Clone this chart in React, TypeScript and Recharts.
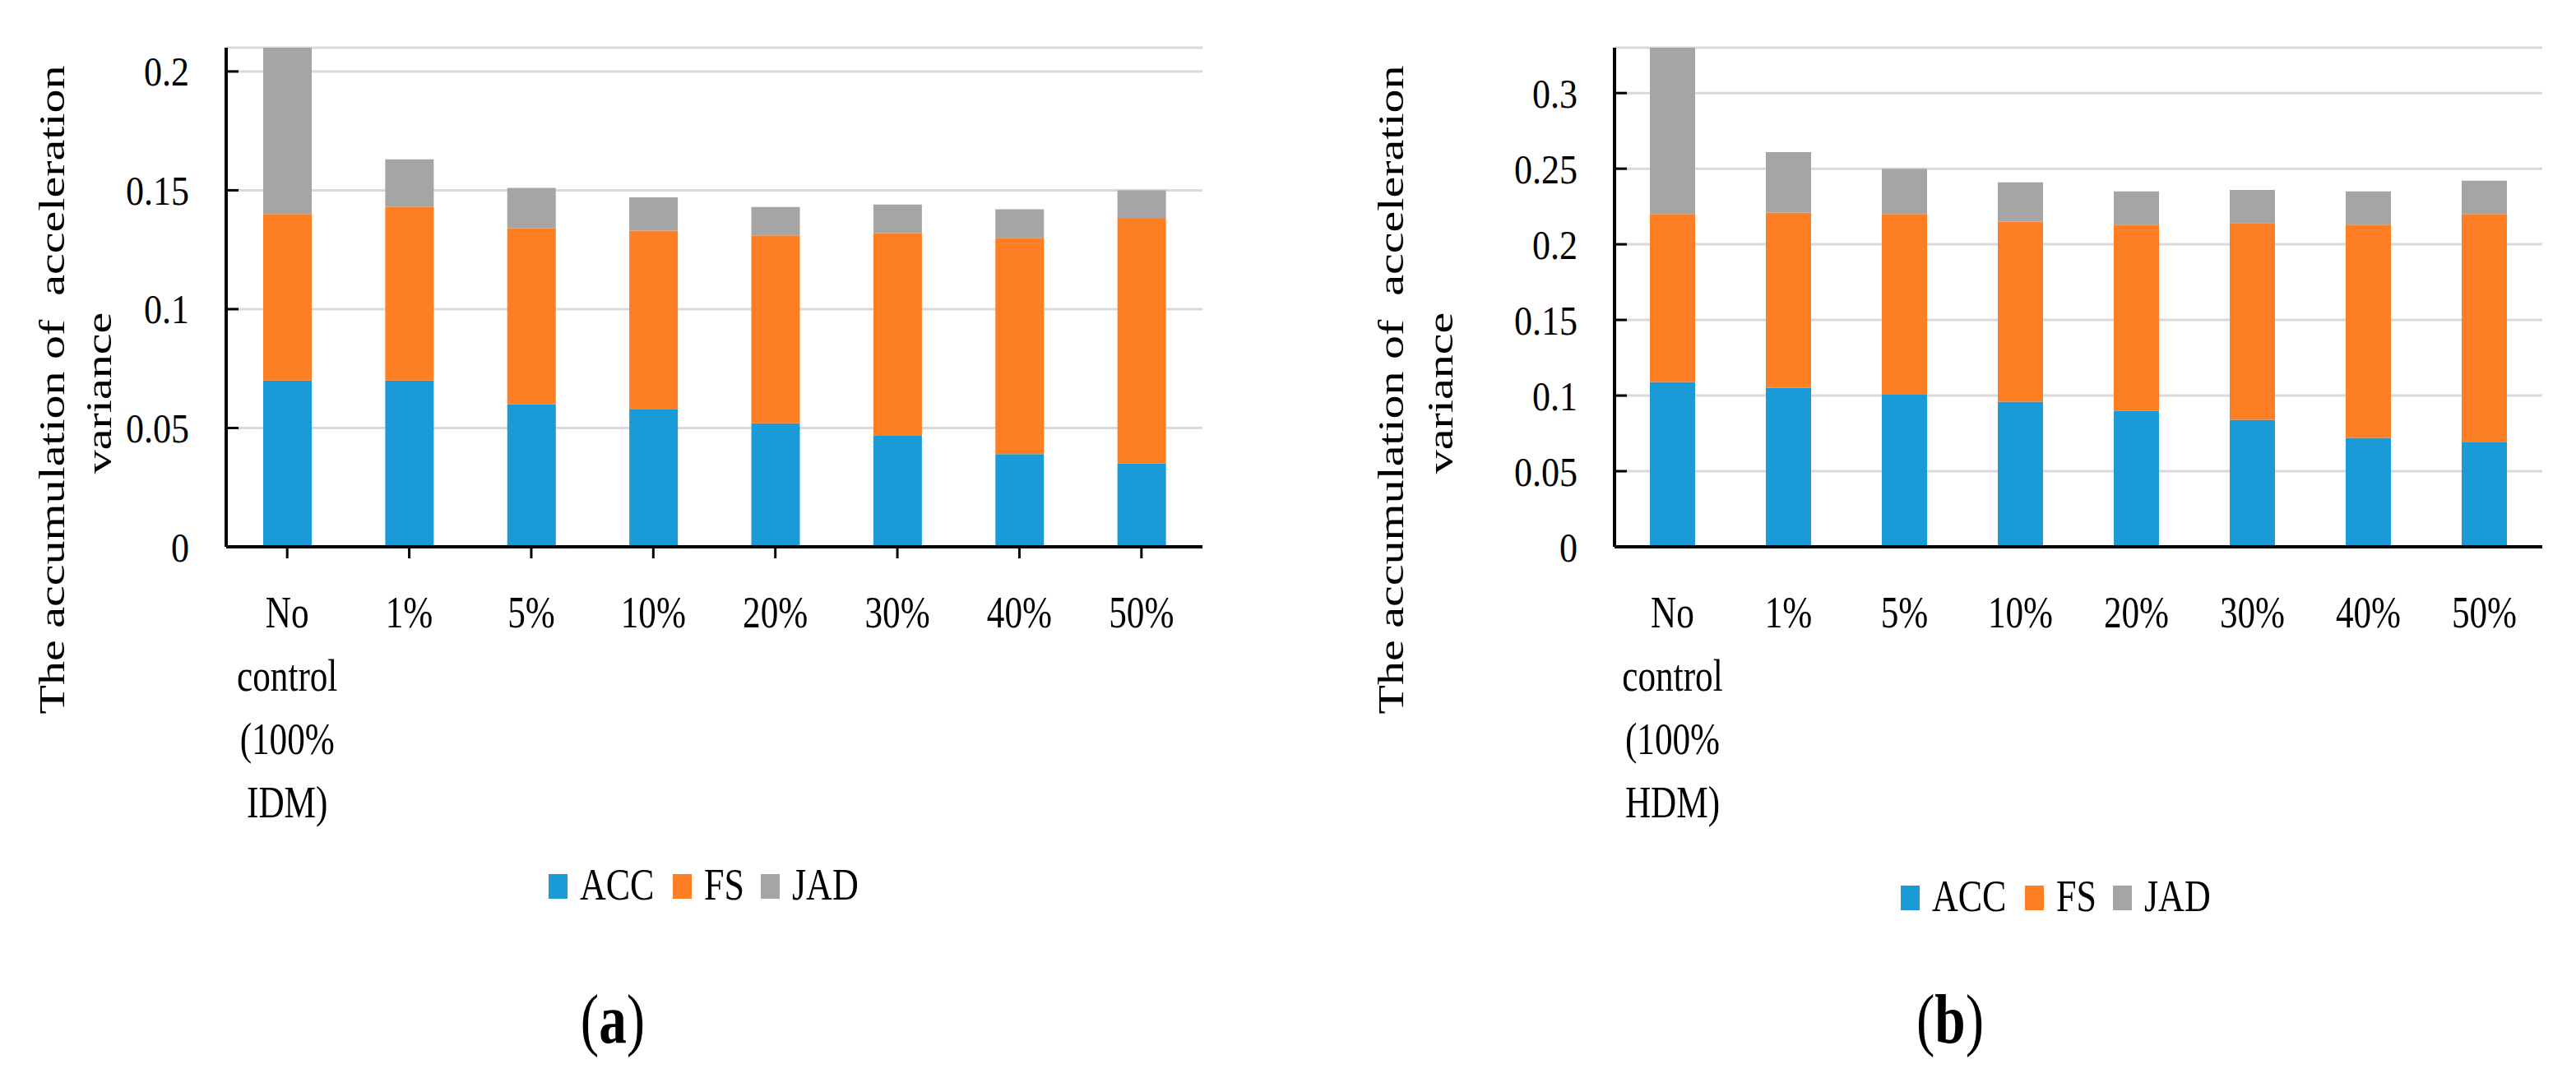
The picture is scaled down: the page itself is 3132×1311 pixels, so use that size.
import React from "react";
import { BarChart, Bar, XAxis, YAxis, CartesianGrid, Legend } from "recharts";

const categoriesA = ["No\ncontrol\n(100%\nIDM)", "1%", "5%", "10%", "20%", "30%", "40%", "50%"];
const categoriesB = ["No\ncontrol\n(100%\nHDM)", "1%", "5%", "10%", "20%", "30%", "40%", "50%"];

// (a) IDM
const accA = [0.07, 0.07, 0.06, 0.058, 0.052, 0.047, 0.039, 0.035];
const fsA = [0.07, 0.073, 0.074, 0.075, 0.079, 0.085, 0.091, 0.103];
const jadA = [0.07, 0.02, 0.017, 0.014, 0.012, 0.012, 0.012, 0.012];
const yTicksA = [0, 0.05, 0.1, 0.15, 0.2];

// (b) HDM
const accB = [0.109, 0.105, 0.101, 0.096, 0.09, 0.084, 0.072, 0.069];
const fsB = [0.111, 0.116, 0.119, 0.119, 0.123, 0.13, 0.141, 0.151];
const jadB = [0.11, 0.04, 0.03, 0.026, 0.022, 0.022, 0.022, 0.022];
const yTicksB = [0, 0.05, 0.1, 0.15, 0.2, 0.25, 0.3];

const BLUE = "#1a9ad6";
const ORANGE = "#fe7e23";
const GRAY = "#a5a5a5";
const FONT = "'Liberation Serif', 'Times New Roman', serif";

const rowsA = categoriesA.map((c, i) => ({ cat: c, ACC: accA[i], FS: fsA[i], JAD: jadA[i] }));
const rowsB = categoriesB.map((c, i) => ({ cat: c, ACC: accB[i], FS: fsB[i], JAD: jadB[i] }));

function CatTick({ x, y, payload }: any) {
  const lines = String(payload.value).split("\n");
  return (
    <g transform={`translate(${x},${y}) scale(0.8,1)`}>
      <text textAnchor="middle" fontFamily={FONT} fontSize={54} fill="#000">
        {lines.map((l, i) => (
          <tspan key={i} x={0} y={84 + i * 77}>{l}</tspan>
        ))}
      </text>
    </g>
  );
}

function ValTick({ x, y, payload }: any) {
  return (
    <text
      transform={`translate(${x},${y}) scale(0.88,1)`}
      textAnchor="end"
      dy="0.35em"
      fontFamily={FONT}
      fontSize={50}
      fill="#000"
    >
      {payload.value}
    </text>
  );
}

const legendOffsets = [0, 151, 258];

function makeLegend(startX: number) {
  return (props: any) => (
    <svg width={1566} height={110} style={{ display: "block", overflow: "visible" }}>
      {(props.payload || []).map((p: any, i: number) => (
        <g key={p.value} transform={`translate(${startX + legendOffsets[i]},0)`}>
          <rect x={0} y={28} width={23} height={30} fill={p.color} />
          <text transform="translate(38,59) scale(0.8,1)" fontFamily={FONT} fontSize={55} fill="#000">
            {p.value}
          </text>
        </g>
      ))}
    </svg>
  );
}

function Panel({ rows, ticks, max, axisW, right, barSize, showTicks, legendX, legendTop }: any) {
  return (
    <BarChart
      width={1566}
      height={1311}
      data={rows}
      margin={{ top: 58, right, bottom: 296, left: 0 }}
    >
      <CartesianGrid vertical={false} stroke="#d9d9d9" strokeWidth={3} />
      <XAxis
        dataKey="cat"
        interval={0}
        height={350}
        axisLine={{ stroke: "#000", strokeWidth: 4 }}
        tickLine={showTicks ? { stroke: "#000", strokeWidth: 3 } : false}
        tickSize={14}
        tickMargin={0}
        tick={<CatTick />}
      />
      <YAxis
        width={axisW}
        domain={[0, max]}
        ticks={ticks}
        allowDataOverflow
        axisLine={{ stroke: "#000", strokeWidth: 4 }}
        tickLine={{ stroke: "#000", strokeWidth: 3 }}
        tickSize={-15}
        tickMargin={60}
        tick={<ValTick />}
      />
      <Legend
        layout="horizontal"
        verticalAlign="middle"
        align="center"
        wrapperStyle={{ left: 0, top: legendTop - 20, width: 1566, height: 110 }}
        content={makeLegend(legendX)}
      />
      <Bar dataKey="ACC" stackId="s" fill={BLUE} barSize={barSize} isAnimationActive={false} />
      <Bar dataKey="FS" stackId="s" fill={ORANGE} barSize={barSize} isAnimationActive={false} />
      <Bar dataKey="JAD" stackId="s" fill={GRAY} barSize={barSize} isAnimationActive={false} />
    </BarChart>
  );
}

function YLabel({ x1, x2, cy }: { x1: number; x2: number; cy: number }) {
  return (
    <g fontFamily={FONT} fontSize={58} fill="#000">
      <text transform={`translate(${x1},${cy}) rotate(-90) scale(1,0.78)`} textAnchor="middle" style={{ whiteSpace: "pre" }}>
        The accumulation of  acceleration
      </text>
      <text transform={`translate(${x2},${cy + 4}) rotate(-90) scale(1,0.78)`} textAnchor="middle">
        variance
      </text>
    </g>
  );
}

function Caption({ x, letter }: { x: number; letter: string }) {
  return (
    <text transform={`translate(${x},1268) scale(0.8,1)`} textAnchor="middle" fontFamily={FONT} fontSize={84} fill="#000">
      <tspan>(</tspan>
      <tspan fontWeight="bold">{letter}</tspan>
      <tspan>)</tspan>
    </text>
  );
}

export default function App() {
  return (
    <div style={{ position: "absolute", left: 0, top: 0, width: 3132, height: 1311, background: "#fff" }}>
      <div style={{ position: "absolute", left: 0, top: 0 }}>
        <Panel rows={rowsA} ticks={yTicksA} max={0.21} axisW={275} right={104} barSize={59} showTicks legendX={667} legendTop={1055} />
      </div>
      <div style={{ position: "absolute", left: 1566, top: 0 }}>
        <Panel rows={rowsB} ticks={yTicksB} max={0.33} axisW={397} right={41} barSize={55} showTicks={false} legendX={745} legendTop={1069} />
      </div>
      <svg width={3132} height={1311} style={{ position: "absolute", left: 0, top: 0, pointerEvents: "none" }}>
        <YLabel x1={78} x2={135} cy={474} />
        <YLabel x1={1706} x2={1766} cy={474} />
        <Caption x={745} letter="a" />
        <Caption x={2371} letter="b" />
      </svg>
    </div>
  );
}
